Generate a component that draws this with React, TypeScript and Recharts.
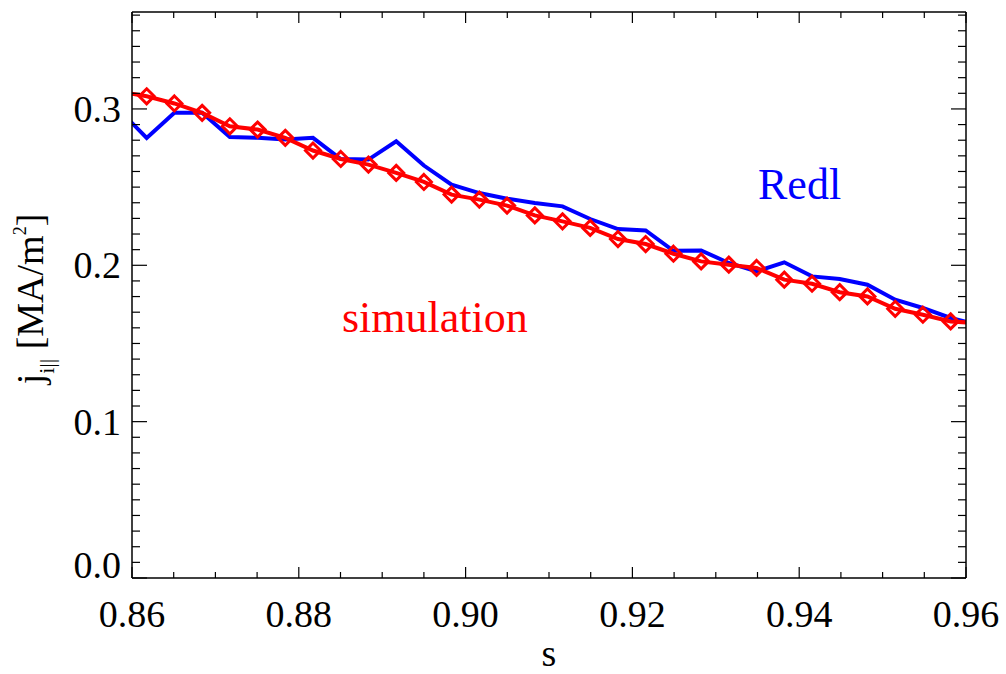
import React from "react";
import { LineChart, Line, XAxis, YAxis } from "recharts";

// s grid (one point either side falls outside the plotted range, like the original)
const sVals = [
  0.85844, 0.86176, 0.86508, 0.86841, 0.87173, 0.87506, 0.87838, 0.8817,
  0.88503, 0.88835, 0.89168, 0.895, 0.89832, 0.90165, 0.90497, 0.9083,
  0.91162, 0.91494, 0.91827, 0.92159, 0.92492, 0.92824, 0.93156, 0.93489,
  0.93821, 0.94154, 0.94486, 0.94818, 0.95151, 0.95483, 0.95816, 0.96148,
];

const simVals = [
  0.3111, 0.3081, 0.3035, 0.2975, 0.2889, 0.2868, 0.2815, 0.2734, 0.268,
  0.2644, 0.2591, 0.2533, 0.2452, 0.242, 0.2382, 0.2319, 0.2281, 0.2239,
  0.2168, 0.2136, 0.2074, 0.2025, 0.2004, 0.1983, 0.1908, 0.1882, 0.1828,
  0.1801, 0.1722, 0.1684, 0.1641, 0.163,
];

const redlVals = [
  0.2994, 0.2815, 0.2975, 0.2975, 0.2821, 0.2815, 0.2804, 0.2815, 0.268,
  0.2676, 0.2793, 0.2638, 0.2516, 0.2462, 0.2426, 0.2398, 0.2377, 0.2296,
  0.2232, 0.2223, 0.2093, 0.2095, 0.2015, 0.1961, 0.2019, 0.1929, 0.1912,
  0.1876, 0.178, 0.1727, 0.1663, 0.1619,
];

const xLabels = ["0.86", "0.88", "0.90", "0.92", "0.94", "0.96"];
const yLabels = ["0.0", "0.1", "0.2", "0.3"];

const X_DOMAIN: [number, number] = [0.86, 0.96];
const Y_DOMAIN: [number, number] = [0, 0.362];

// minor ticks every 0.005 in s, every 0.01 in j
const xTicks = Array.from({ length: 21 }, (_, i) => Math.round(860 + i * 5) / 1000);
const yTicks = Array.from({ length: 37 }, (_, i) => i / 100);

const data = sVals.map((s, i) => ({ s, sim: simVals[i], redl: redlVals[i] }));

const FONT = "Liberation Serif, Times New Roman, DejaVu Serif, serif";
const TXT = { fontFamily: FONT };
const AXIS = { stroke: "#000", strokeWidth: 1.5 };

const xMajor = (v: number) => xLabels.includes(v.toFixed(2)) && Math.round(v * 1000) % 20 === 0;
const yMajor = (v: number) => Math.round(v * 100) % 10 === 0;

const BottomTick = (props: any) => {
  const { x, y, payload } = props;
  const v = payload.value;
  const major = xMajor(v);
  return (
    <g>
      <line x1={x} x2={x} y1={y} y2={y - (major ? 11 : 6)} stroke="#000" strokeWidth={1.2} />
      {major && (
        <text x={x} y={y + 49} textAnchor="middle" fontSize={38} style={TXT} fill="#000">
          {v.toFixed(2)}
        </text>
      )}
    </g>
  );
};

const TopTick = (props: any) => {
  const { x, y, payload } = props;
  const major = xMajor(payload.value);
  return <line x1={x} x2={x} y1={y} y2={y + (major ? 11 : 6)} stroke="#000" strokeWidth={1.2} />;
};

const LeftTick = (props: any) => {
  const { x, y, payload } = props;
  const v = payload.value;
  const major = yMajor(v);
  const label = yLabels[Math.round(v * 10)];
  return (
    <g>
      <line x1={x} x2={x + (major ? 15 : 8)} y1={y} y2={y} stroke="#000" strokeWidth={1.2} />
      {major && label && (
        <text
          x={x - 11}
          y={y + (v === 0 ? 0 : 13)}
          textAnchor="end"
          fontSize={38}
          style={TXT}
          fill="#000"
        >
          {label}
        </text>
      )}
    </g>
  );
};

const RightTick = (props: any) => {
  const { x, y, payload } = props;
  const major = yMajor(payload.value);
  return <line x1={x} x2={x - (major ? 15 : 8)} y1={y} y2={y} stroke="#000" strokeWidth={1.2} />;
};

const Diamond = (props: any) => {
  const { cx, cy, index } = props;
  if (cx == null || cy == null) return <g key={index} />;
  const r = 7.5;
  return (
    <path
      key={index}
      d={`M${cx},${cy - r} L${cx + r},${cy} L${cx},${cy + r} L${cx - r},${cy} Z`}
      stroke="#ff0000"
      strokeWidth={3}
      fill="none"
    />
  );
};

const YTitle = (props: any) => {
  const vb = props.viewBox || {};
  const cy = (vb.y ?? 12) + (vb.height ?? 566) / 2 + 4;
  const cx = 43;
  return (
    <text
      x={cx}
      y={cy}
      transform={`rotate(-90, ${cx}, ${cy})`}
      textAnchor="middle"
      fontSize={38}
      style={TXT}
      fill="#000"
    >
      j
      <tspan fontSize={22} dy={11}>i||</tspan>
      <tspan dy={-11}> [MA/m</tspan>
      <tspan fontSize={18} dy={-17}>2</tspan>
      <tspan dy={17}>]</tspan>
    </text>
  );
};

const XTitle = (props: any) => {
  const vb = props.viewBox || {};
  const cx = (vb.x ?? 132) + (vb.width ?? 834) / 2;
  return (
    <text x={cx} y={666} textAnchor="middle" fontSize={38} style={TXT} fill="#000">
      s
    </text>
  );
};

export default function App() {
  return (
    <div style={{ position: "absolute", left: 0, top: 0, width: 1006, height: 674, background: "#fff" }}>
      <LineChart
        width={1006}
        height={674}
        data={data}
        margin={{ top: 2, right: 20, bottom: 36, left: 72 }}
      >
        <XAxis
          dataKey="s"
          type="number"
          domain={X_DOMAIN}
          allowDataOverflow
          ticks={xTicks}
          interval={0}
          tickSize={0}
          tickMargin={0}
          tickLine={false}
          tick={BottomTick}
          axisLine={AXIS}
          height={60}
          label={{ content: XTitle }}
        />
        <XAxis
          xAxisId="top"
          orientation="top"
          dataKey="s"
          type="number"
          domain={X_DOMAIN}
          allowDataOverflow
          ticks={xTicks}
          interval={0}
          tickSize={0}
          tickMargin={0}
          tickLine={false}
          tick={TopTick}
          axisLine={AXIS}
          height={10}
        />
        <YAxis
          type="number"
          domain={Y_DOMAIN}
          allowDataOverflow
          ticks={yTicks}
          interval={0}
          tickSize={0}
          tickMargin={0}
          tickLine={false}
          tick={LeftTick}
          axisLine={AXIS}
          width={60}
          label={{ content: YTitle }}
        />
        <YAxis
          yAxisId="right"
          orientation="right"
          type="number"
          domain={Y_DOMAIN}
          allowDataOverflow
          ticks={yTicks}
          interval={0}
          tickSize={0}
          tickMargin={0}
          tickLine={false}
          tick={RightTick}
          axisLine={AXIS}
          width={20}
        />
        <Line
          dataKey="redl"
          stroke="#0000ff"
          strokeWidth={4}
          dot={false}
          activeDot={false}
          isAnimationActive={false}
        />
        <Line
          dataKey="sim"
          stroke="#ff0000"
          strokeWidth={4}
          dot={Diamond}
          activeDot={false}
          isAnimationActive={false}
        />
        <text x={758} y={199} fontSize={44} style={TXT} fill="#0000ff">
          Redl
        </text>
        <text x={342} y={332} fontSize={44} style={TXT} fill="#ff0000">
          simulation
        </text>
      </LineChart>
    </div>
  );
}
